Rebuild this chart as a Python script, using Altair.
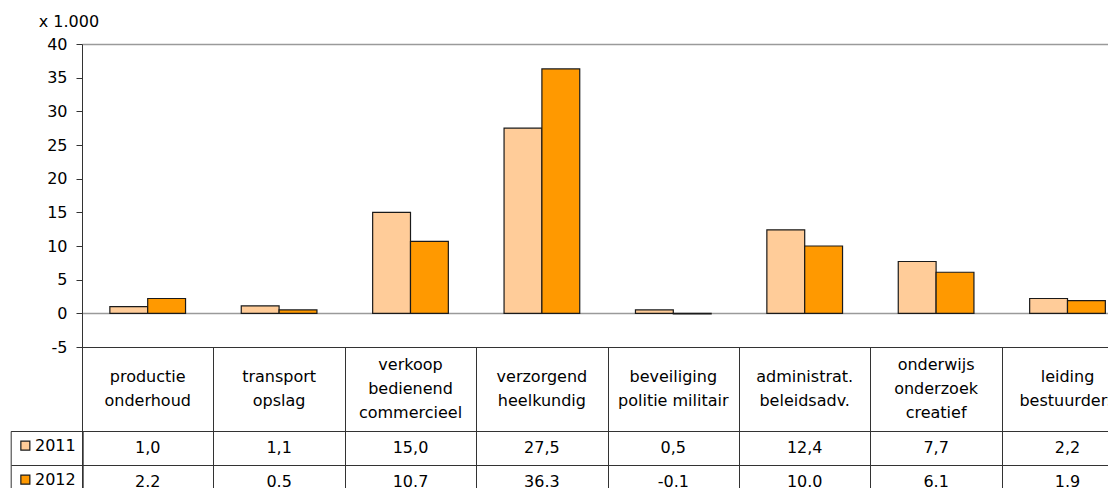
import altair as alt
import pandas as pd

# ---- data -------------------------------------------------------------
categories = [
    "productie onderhoud",
    "transport opslag",
    "verkoop bedienend commercieel",
    "verzorgend heelkundig",
    "beveiliging politie militair",
    "administrat. beleidsadv.",
    "onderwijs onderzoek creatief",
    "leiding bestuurders",
]
header_lines = [
    ["productie", "onderhoud"],
    ["transport", "opslag"],
    ["verkoop", "bedienend", "commercieel"],
    ["verzorgend", "heelkundig"],
    ["beveiliging", "politie militair"],
    ["administrat.", "beleidsadv."],
    ["onderwijs", "onderzoek", "creatief"],
    ["leiding", "bestuurders"],
]
years = ["2011", "2012"]
values_2011 = [1.0, 1.1, 15.0, 27.5, 0.5, 12.4, 7.7, 2.2]
values_2012 = [2.2, 0.5, 10.7, 36.3, -0.1, 10.0, 6.1, 1.9]
y_ticks = [40, 35, 30, 25, 20, 15, 10, 5, 0, -5]
unit_label = "x 1.000"
colors = ["#FFCC99", "#FF9900"]

FONT = "DejaVu Sans"
LINE = "#333333"
GREY = "#9a9a9a"

rows_list = []
for i, (c, v) in enumerate(zip(categories, values_2011)):
    rows_list.append({"cat": c, "idx": i, "year": "2011", "row": 0, "value": v,
                      "label": f"{v:.1f}".replace(".", ",")})
for i, (c, v) in enumerate(zip(categories, values_2012)):
    rows_list.append({"cat": c, "idx": i, "year": "2012", "row": 1, "value": v,
                      "label": f"{v:.1f}"})
df = pd.DataFrame(rows_list)

hdr_rows = []
for i, lines in enumerate(header_lines):
    n = len(lines)
    for j, t in enumerate(lines):
        hdr_rows.append({"idx": i, "line": t, "pos": (n - 1) / 2 - j})
hdr_df = pd.DataFrame(hdr_rows)

# ---- layout constants ---------------------------------------------------
W = 1026            # visible plot width (the last column runs past the window)
STEP = 131.4        # width of one category column
N = len(categories)
PI = 0.424          # gap between bar groups, as a fraction of a column
PO = (W / STEP - N + PI) / 2
ALIGN = (STEP * PI / 2) / (W - STEP * (N - PI))
XMAX = -0.5 + W / STEP
boundaries = [i - 0.5 for i in range(N)]

# ---- bar panel --------------------------------------------------------
bar_panel = alt.Chart(df).mark_bar(stroke="#1a1a1a", strokeWidth=1.2).encode(
    x=alt.X("cat:N", sort=categories,
            scale=alt.Scale(paddingInner=PI, paddingOuter=PO, align=ALIGN), axis=None),
    xOffset=alt.XOffset("year:N", sort=years, scale=alt.Scale(paddingInner=0, paddingOuter=0)),
    y=alt.Y("value:Q", scale=alt.Scale(domain=[-5, 40], nice=False, zero=False),
            axis=alt.Axis(values=y_ticks, grid=True,
                          gridColor={"condition": {"test": "datum.value === 0 || datum.value === 40",
                                                   "value": GREY},
                                     "value": "transparent"},
                          gridWidth=1.5, gridOpacity=1,
                          tickSize=6, tickColor=LINE,
                          domainColor=LINE, labelPadding=9, labelFontSize=16,
                          labelFont=FONT, labelColor="black",
                          labelExpr="replace(datum.label, '\u2212', '-')",
                          labelOverlap=False, labelFlush=False,
                          title=unit_label, titleAngle=0, titleAlign="left",
                          titleBaseline="alphabetic", titleX=-43.7, titleY=-17.4,
                          titleFontSize=16, titleFontWeight="normal", titleFont=FONT,
                          titleColor="black")),
    color=alt.Color("year:N", sort=years,
                    scale=alt.Scale(domain=years, range=colors),
                    legend=alt.Legend(orient="none", legendX=-71.3, legendY=387,
                                      title=None, symbolType="square", symbolSize=81,
                                      symbolStrokeColor="#1a1a1a", symbolStrokeWidth=1.2,
                                      labelFontSize=16, labelFont=FONT, labelColor="black",
                                      labelOffset=1.6, rowPadding=18, padding=6.65,
                                      strokeColor=LINE)),
).properties(width=W, height=303)

# ---- table header panel -------------------------------------------------
table_x = alt.X("idx:Q", title=None,
                scale=alt.Scale(domain=[-0.5, XMAX], nice=False, zero=False),
                axis=alt.Axis(values=boundaries, labels=False, ticks=False, domain=False,
                              grid=True, gridColor=LINE, gridOpacity=1))

header = alt.Chart(hdr_df).mark_text(fontSize=16, font=FONT, color="black", clip=True).encode(
    x=table_x,
    y=alt.Y("pos:Q", title=None, scale=alt.Scale(domain=[-1.75, 1.75], nice=False, zero=False),
            axis=alt.Axis(values=[-1.75, 1.75], labels=False, ticks=False, domain=True,
                          domainColor=LINE, grid=True, gridColor=LINE, gridOpacity=1)),
    text="line:N",
).properties(width=W, height=84)

# ---- table rows panel ---------------------------------------------------
rows = alt.Chart(df).mark_text(fontSize=16, font=FONT, color="black", clip=True).encode(
    x=table_x,
    y=alt.Y("row:Q", title=None, scale=alt.Scale(domain=[1.5, -0.5], nice=False, zero=False),
            axis=alt.Axis(values=[-0.5, 0.5, 1.5], labels=False, ticks=True, tickSize=71,
                          tickColor=LINE, domain=True, domainColor=LINE, grid=True,
                          gridColor=LINE, gridOpacity=1)),
    text="label:N",
).properties(width=W, height=68)

chart = alt.vconcat(bar_panel, header, rows, spacing=0, bounds="flush").properties(
    padding={"left": 2, "top": 5, "right": 0, "bottom": 0}
).configure(font=FONT).configure_view(stroke="transparent", strokeWidth=0)

chart.save("out.html", embed_options={"renderer": "svg", "actions": False})
